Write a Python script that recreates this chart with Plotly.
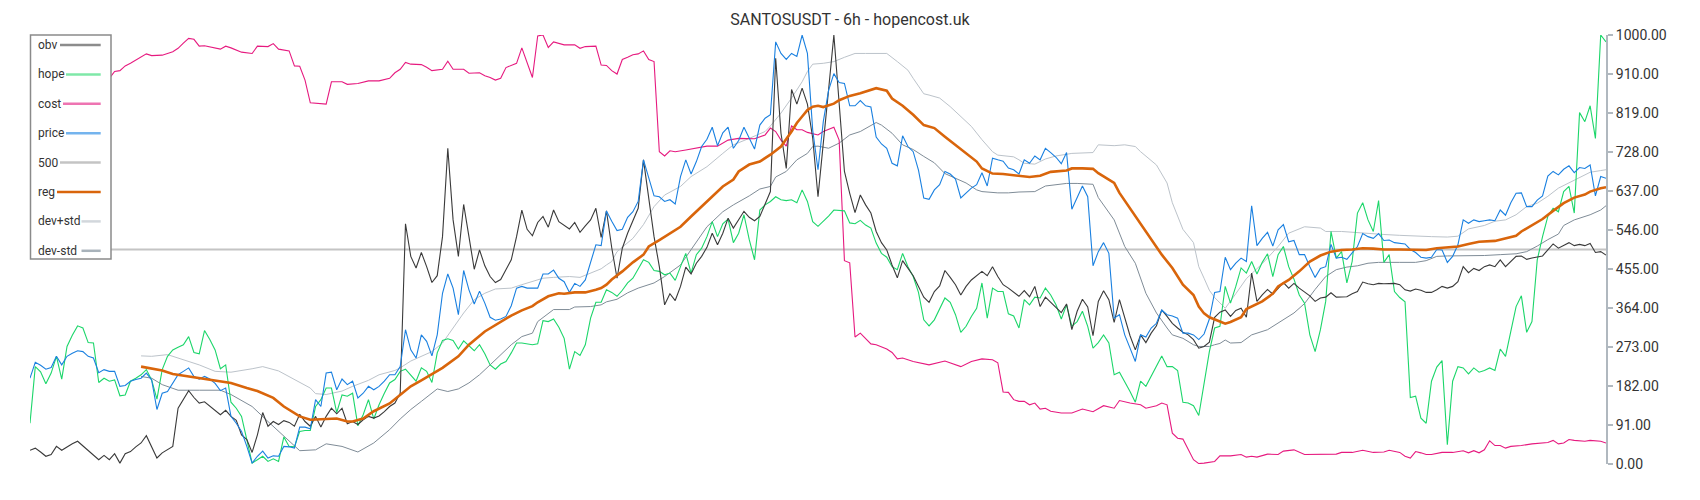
import plotly.graph_objects as go

TITLE = "SANTOSUSDT - 6h - hopencost.uk"
Y_TICKS = [0, 91, 182, 273, 364, 455, 546, 637, 728, 819, 910, 1000]
N_LAST = 298

# (bar index, value) vertices
obv_pts = [(0,32),(1,37),(2,28),(3,18),(4,22),(5,41),(6,32),(7,40),(8,47),(9,53),(10,42),(11,32),(12,20),(13,10),(14,20),(15,10),(16,24),(17,2),(18,24),(19,29),(20,40),(21,49),(22,66),(23,40),(24,14),(25,26),(26,33),(27,41),(28,130),(29,150),(30,171),(31,155),(32,142),(33,145),(34,135),(35,127),(36,115),(37,125),(38,111),(39,102),(40,68),(41,57),(42,27),(43,68),(44,120),(45,88),(46,99),(47,92),(48,101),(49,97),(50,88),(51,116),(52,99),(53,88),(54,111),(55,86),(56,111),(57,130),(58,117),(59,130),(60,94),(61,99),(62,92),(63,103),(64,111),(65,107),(66,112),(67,122),(68,134),(69,142),(70,165),(71,560),(72,484),(73,457),(74,493),(75,460),(76,423),(77,439),(78,530),(79,736),(80,569),(81,484),(82,605),(83,530),(84,454),(85,499),(86,462),(87,437),(88,423),(89,430),(90,453),(91,476),(92,530),(93,592),(94,547),(95,532),(96,563),(97,577),(98,552),(99,592),(100,565),(101,557),(102,548),(103,563),(104,540),(105,555),(106,569),(107,596),(108,528),(109,590),(110,504),(111,433),(112,503),(113,538),(114,569),(115,596),(116,709),(117,623),(118,530),(119,460),(120,371),(121,397),(122,381),(123,414),(124,459),(125,443),(126,468),(127,484),(128,505),(129,538),(130,511),(131,538),(132,573),(133,550),(134,571),(135,589),(136,575),(137,567),(138,577),(139,604),(140,635),(141,946),(142,771),(143,689),(144,873),(145,839),(146,876),(147,839),(148,760),(149,623),(150,740),(151,872),(152,1000),(153,841),(154,682),(155,631),(156,586),(157,627),(158,604),(159,585),(160,542),(161,516),(162,499),(163,464),(164,434),(165,474),(166,457),(167,439),(168,414),(169,389),(170,377),(171,402),(172,415),(173,451),(174,435),(175,418),(176,394),(177,414),(178,429),(179,439),(180,449),(181,439),(182,460),(183,437),(184,418),(185,410),(186,400),(187,391),(188,404),(189,390),(190,414),(191,367),(192,389),(193,377),(194,366),(195,353),(196,373),(197,313),(198,356),(199,384),(200,366),(201,299),(202,379),(203,404),(204,383),(205,330),(206,383),(207,340),(208,299),(209,266),(210,301),(211,283),(212,305),(213,322),(214,359),(215,344),(216,328),(217,317),(218,307),(219,301),(220,290),(221,270),(222,274),(223,284),(224,342),(225,354),(226,359),(227,344),(228,358),(229,363),(230,342),(231,445),(232,379),(233,394),(234,407),(235,396),(236,410),(237,423),(238,410),(239,421),(240,410),(241,402),(242,392),(243,379),(244,387),(245,389),(246,399),(247,389),(248,390),(249,390),(250,397),(251,402),(252,424),(253,420),(254,418),(255,421),(256,420),(257,420),(258,421),(259,418),(260,406),(261,403),(262,408),(263,405),(264,400),(265,400),(266,406),(267,414),(268,410),(269,414),(270,425),(271,460),(272,446),(273,456),(274,451),(275,460),(276,464),(277,460),(278,476),(279,460),(280,472),(281,484),(282,485),(283,477),(284,480),(285,482),(286,485),(287,499),(288,513),(289,503),(290,509),(291,516),(292,509),(293,512),(294,509),(295,514),(296,493),(297,495),(298,487)]

hope_pts = [(0,95),(1,227),(2,215),(3,187),(4,212),(5,251),(6,198),(7,274),(8,300),(9,322),(10,317),(11,283),(12,282),(13,190),(14,200),(15,193),(16,196),(17,159),(18,161),(19,193),(20,200),(21,208),(22,220),(23,196),(24,151),(25,220),(26,251),(27,266),(28,272),(29,278),(30,297),(31,260),(32,257),(33,311),(34,290),(35,266),(36,222),(37,231),(38,144),(39,130),(40,111),(41,55),(42,2),(43,10),(44,18),(45,6),(46,12),(47,6),(48,63),(49,41),(50,40),(51,76),(52,78),(53,78),(54,134),(55,150),(56,177),(57,177),(58,120),(59,161),(60,158),(61,165),(62,89),(63,115),(64,150),(65,105),(66,138),(67,165),(68,189),(69,197),(70,216),(71,221),(72,207),(73,193),(74,224),(75,216),(76,190),(77,259),(78,288),(79,292),(80,288),(81,268),(82,287),(83,276),(84,264),(85,278),(86,257),(87,231),(88,221),(89,233),(90,239),(91,259),(92,282),(93,282),(94,280),(95,278),(96,280),(97,334),(98,332),(99,338),(100,319),(101,293),(102,221),(103,262),(104,253),(105,278),(106,340),(107,377),(108,377),(109,406),(110,400),(111,391),(112,405),(113,422),(114,433),(115,453),(116,476),(117,470),(118,451),(119,449),(120,441),(121,445),(122,428),(123,460),(124,491),(125,445),(126,488),(127,503),(128,530),(129,565),(130,530),(131,560),(132,571),(133,516),(134,538),(135,581),(136,523),(137,476),(138,592),(139,604),(140,612),(141,623),(142,616),(143,614),(144,616),(145,609),(146,639),(147,612),(148,565),(149,554),(150,565),(151,578),(152,592),(153,591),(154,590),(155,562),(156,560),(157,568),(158,557),(159,550),(160,515),(161,491),(162,482),(163,460),(164,453),(165,491),(166,460),(167,437),(168,400),(169,336),(170,322),(171,336),(172,361),(173,387),(174,377),(175,348),(176,307),(177,321),(178,344),(179,363),(180,422),(181,340),(182,410),(183,402),(184,402),(185,350),(186,345),(187,317),(188,383),(189,371),(190,389),(191,387),(192,410),(193,394),(194,371),(195,338),(196,371),(197,321),(198,332),(199,356),(200,321),(201,270),(202,283),(203,301),(204,282),(205,208),(206,214),(207,193),(208,169),(209,144),(210,193),(211,181),(212,204),(213,227),(214,252),(215,227),(216,227),(217,218),(218,144),(219,142),(220,136),(221,113),(222,189),(223,262),(224,317),(225,321),(226,414),(227,375),(228,414),(229,457),(230,445),(231,472),(232,443),(233,470),(234,490),(235,437),(236,488),(237,507),(238,460),(239,431),(240,394),(241,375),(242,301),(243,262),(244,313),(245,379),(246,542),(247,480),(248,495),(249,422),(250,472),(251,585),(252,609),(253,569),(254,542),(255,614),(256,470),(257,488),(258,402),(259,388),(260,378),(261,155),(262,158),(263,107),(264,95),(265,193),(266,226),(267,241),(268,45),(269,193),(270,227),(271,224),(272,210),(273,224),(274,214),(275,218),(276,224),(277,218),(278,268),(279,251),(280,309),(281,367),(282,392),(283,307),(284,332),(285,476),(286,530),(287,577),(288,596),(289,588),(290,635),(291,647),(292,585),(293,819),(294,798),(295,835),(296,759),(297,1000),(298,984)]

cost_pts = [(15,899),(16,915),(17,917),(18,928),(19,934),(21,948),(22,956),(23,952),(25,953),(27,961),(28,969),(29,981),(30,992),(31,990),(32,974),(33,975),(34,972),(35,969),(36,967),(37,974),(38,970),(40,960),(42,957),(43,974),(45,973),(46,980),(47,967),(49,963),(50,928),(51,927),(52,895),(53,842),(55,840),(56,839),(57,891),(59,891),(60,885),(62,887),(64,893),(66,893),(68,899),(69,912),(70,920),(71,936),(72,932),(74,931),(75,925),(76,917),(78,920),(79,939),(80,920),(82,920),(83,911),(85,912),(86,905),(87,901),(88,895),(89,899),(90,924),(92,934),(93,970),(94,934),(95,901),(96,998),(97,1000),(98,971),(99,984),(101,977),(103,977),(104,969),(105,973),(107,974),(108,930),(109,929),(110,917),(111,909),(112,943),(113,948),(114,954),(115,956),(116,963),(117,943),(118,938),(119,728),(120,718),(121,730),(122,728),(124,732),(126,736),(128,741),(130,741),(132,755),(134,759),(136,759),(137,758),(139,767),(140,783),(141,775),(142,755),(143,741),(144,788),(145,779),(146,779),(147,773),(149,767),(150,775),(152,785),(153,755),(154,474),(155,469),(156,296),(157,305),(158,293),(159,280),(160,278),(162,268),(163,260),(164,245),(165,247),(167,239),(170,231),(173,240),(176,227),(178,239),(180,245),(182,243),(183,236),(184,168),(185,167),(186,150),(187,146),(188,146),(189,138),(190,142),(191,128),(192,130),(193,123),(195,119),(197,119),(199,128),(201,122),(203,136),(205,130),(206,148),(208,142),(210,138),(211,130),(213,136),(214,142),(215,138),(216,72),(217,60),(218,58),(219,33),(220,10),(221,1),(222,2),(224,6),(225,19),(226,19),(227,19),(229,22),(230,16),(231,18),(232,16),(234,23),(236,22),(237,30),(239,33),(241,22),(243,22),(245,23),(247,23),(248,27),(250,27),(252,32),(254,27),(256,28),(257,32),(259,27),(260,18),(261,14),(262,29),(263,26),(264,22),(265,22),(267,27),(269,27),(271,31),(272,26),(273,31),(274,26),(275,33),(276,54),(277,43),(278,43),(279,37),(280,41),(282,43),(284,47),(286,50),(287,50),(288,55),(289,47),(290,49),(291,57),(292,55),(294,53),(295,55),(297,53),(298,49)]

price_pts = [(0,200),(1,237),(2,230),(3,221),(4,225),(5,251),(6,231),(7,251),(8,258),(9,264),(10,262),(11,251),(12,247),(13,213),(14,220),(15,216),(16,216),(17,181),(18,183),(19,193),(20,197),(21,200),(22,212),(23,196),(24,127),(25,165),(26,169),(27,187),(28,208),(29,216),(30,224),(31,204),(32,198),(33,204),(34,198),(35,188),(36,171),(37,177),(38,111),(39,95),(40,76),(41,41),(42,2),(43,18),(44,30),(45,14),(46,19),(47,18),(48,41),(49,40),(50,37),(51,86),(52,86),(53,82),(54,150),(55,134),(56,212),(57,214),(58,173),(59,198),(60,185),(61,193),(62,154),(63,165),(64,181),(65,173),(66,181),(67,193),(68,208),(69,208),(70,227),(71,313),(72,266),(73,247),(74,301),(75,286),(76,252),(77,301),(78,398),(79,443),(80,410),(81,348),(82,451),(83,406),(84,373),(85,403),(86,375),(87,342),(88,335),(89,338),(90,344),(91,369),(92,410),(93,414),(94,410),(95,410),(96,410),(97,443),(98,443),(99,452),(100,433),(101,425),(102,400),(103,421),(104,414),(105,429),(106,472),(107,511),(108,509),(109,590),(110,566),(111,544),(112,547),(113,575),(114,588),(115,612),(116,709),(117,666),(118,625),(119,623),(120,612),(121,616),(122,606),(123,670),(124,709),(125,676),(126,705),(127,740),(128,757),(129,785),(130,742),(131,772),(132,785),(133,736),(134,754),(135,785),(136,759),(137,734),(138,790),(139,806),(140,814),(141,984),(142,957),(143,943),(144,957),(145,950),(146,1000),(147,957),(148,778),(149,686),(150,798),(151,871),(152,910),(153,889),(154,887),(155,835),(156,835),(157,847),(158,835),(159,832),(160,762),(161,746),(162,736),(163,701),(164,695),(165,765),(166,740),(167,728),(168,685),(169,620),(170,617),(171,639),(172,651),(173,682),(174,676),(175,664),(176,620),(177,631),(178,643),(179,651),(180,679),(181,648),(182,713),(183,709),(184,706),(185,690),(186,686),(187,676),(188,709),(189,701),(190,718),(191,709),(192,736),(193,726),(194,715),(195,700),(196,726),(197,594),(198,620),(199,648),(200,623),(201,462),(202,495),(203,516),(204,491),(205,340),(206,348),(207,301),(208,270),(209,239),(210,301),(211,296),(212,317),(213,328),(214,359),(215,348),(216,345),(217,340),(218,305),(219,305),(220,301),(221,290),(222,303),(223,338),(224,400),(225,402),(226,482),(227,453),(228,468),(229,480),(230,472),(231,602),(232,509),(233,526),(234,540),(235,508),(236,546),(237,558),(238,518),(239,521),(240,488),(241,488),(242,460),(243,435),(244,456),(245,460),(246,512),(247,480),(248,482),(249,477),(250,492),(251,507),(252,537),(253,530),(254,526),(255,537),(256,521),(257,522),(258,516),(259,514),(260,513),(261,500),(262,493),(263,482),(264,480),(265,482),(266,500),(267,499),(268,470),(269,484),(270,511),(271,569),(272,561),(273,569),(274,565),(275,567),(276,569),(277,567),(278,592),(279,580),(280,609),(281,631),(282,632),(283,600),(284,600),(285,615),(286,625),(287,671),(288,682),(289,674),(290,687),(291,695),(292,679),(293,691),(294,689),(295,697),(296,625),(297,670),(298,666)]

level_500 = [(0,500),(298,500)]

reg_pts = [(21,227),(25,218),(27,210),(30,204),(33,198),(35,195),(38,189),(41,177),(43,170),(46,154),(48,134),(51,111),(53,103),(56,105),(58,106),(60,99),(61,99),(63,106),(65,123),(68,141),(70,161),(72,181),(74,195),(76,210),(78,224),(81,251),(83,278),(86,309),(89,332),(91,346),(93,358),(95,368),(96,377),(98,391),(100,398),(101,397),(103,400),(105,400),(107,406),(108,410),(109,418),(110,430),(112,449),(114,470),(116,488),(117,507),(119,522),(121,538),(123,553),(125,577),(127,600),(129,624),(131,647),(133,663),(134,682),(136,698),(138,705),(140,721),(142,740),(144,775),(145,795),(146,810),(147,825),(148,833),(149,835),(150,832),(152,840),(153,848),(155,858),(157,864),(159,872),(160,876),(162,870),(163,852),(165,835),(167,814),(169,790),(171,783),(173,763),(175,744),(177,724),(179,705),(180,689),(182,677),(184,676),(186,673),(189,669),(191,672),(193,681),(196,684),(197,689),(199,689),(201,688),(202,678),(205,655),(206,632),(208,596),(211,542),(214,488),(216,457),(218,418),(220,394),(221,367),(222,351),(223,342),(225,332),(226,327),(227,331),(229,342),(230,361),(233,379),(235,397),(236,414),(238,429),(240,449),(242,472),(244,486),(246,495),(248,499),(250,500),(252,503),(254,502),(256,500),(259,500),(261,499),(264,499),(266,503),(268,505),(270,507),(272,513),(274,518),(277,520),(279,526),(281,532),(282,542),(284,557),(286,571),(288,590),(290,608),(292,621),(294,628),(295,635),(297,643),(298,645)]

dev_plus_pts = [(21,252),(23,251),(26,255),(29,243),(32,231),(35,216),(38,214),(42,222),(44,227),(47,217),(50,196),(53,177),(54,164),(56,162),(59,170),(61,181),(64,195),(66,208),(69,218),(70,224),(72,240),(74,251),(76,262),(78,282),(80,317),(82,352),(84,383),(86,398),(88,408),(91,410),(93,418),(95,426),(97,433),(99,435),(102,437),(104,435),(106,445),(108,455),(109,464),(110,472),(111,495),(114,526),(116,558),(118,600),(120,627),(123,647),(125,670),(128,693),(131,724),(133,744),(136,759),(137,764),(139,775),(140,788),(142,818),(144,853),(146,891),(147,915),(148,932),(150,934),(152,938),(154,948),(156,957),(158,957),(162,957),(164,938),(166,918),(167,899),(169,863),(170,860),(172,853),(174,833),(176,809),(178,787),(180,756),(182,728),(183,720),(186,716),(187,709),(188,701),(190,699),(192,711),(194,718),(197,724),(201,726),(202,744),(205,742),(207,744),(209,740),(210,728),(213,697),(215,655),(216,609),(218,547),(220,516),(221,460),(222,433),(223,405),(224,388),(225,375),(226,363),(228,397),(230,432),(233,467),(236,507),(238,538),(241,553),(244,550),(245,542),(248,542),(250,540),(252,538),(254,536),(256,535),(259,533),(263,532),(265,530),(268,529),(270,531),(272,548),(275,556),(277,566),(279,569),(281,581),(283,600),(285,608),(287,624),(289,643),(291,656),(293,668),(295,680),(297,684),(298,686)]

dev_minus_pts = [(21,204),(23,200),(25,185),(28,172),(32,172),(36,172),(38,162),(42,134),(45,99),(48,64),(51,31),(54,33),(56,47),(59,41),(62,28),(65,49),(68,80),(70,105),(72,127),(74,146),(76,164),(77,175),(79,169),(81,175),(83,189),(85,208),(87,231),(89,255),(91,278),(93,297),(95,305),(96,332),(98,352),(99,360),(102,360),(103,366),(106,367),(108,371),(109,378),(111,384),(113,399),(115,410),(118,422),(120,437),(123,464),(125,499),(128,553),(131,588),(133,604),(136,625),(138,641),(140,647),(141,669),(143,682),(145,709),(147,724),(148,740),(149,741),(151,736),(153,748),(155,767),(157,775),(159,790),(160,796),(161,790),(163,771),(165,744),(167,733),(169,717),(171,702),(173,677),(175,666),(177,655),(179,639),(180,635),(183,632),(185,632),(187,634),(190,635),(192,648),(196,654),(198,654),(201,652),(202,621),(205,569),(207,507),(209,468),(211,398),(213,352),(215,317),(216,301),(218,293),(220,278),(221,274),(223,274),(224,278),(225,281),(226,289),(227,282),(229,283),(231,301),(234,313),(236,328),(239,352),(241,374),(243,407),(245,437),(247,453),(249,459),(251,462),(253,468),(255,470),(259,470),(262,470),(264,474),(266,484),(268,485),(270,485),(272,486),(275,486),(278,488),(281,490),(283,495),(285,508),(287,523),(289,536),(290,556),(292,569),(295,581),(297,592),(298,602)]

# series: name, points, plot colour, width, legend colour
series = [
    ("obv", obv_pts, "#3a3a3a", 1.1, "#8c8c8c"),
    ("hope", hope_pts, "#1cd66a", 1.1, "#7fe8a8"),
    ("cost", cost_pts, "#e61a7f", 1.1, "#ee74b2"),
    ("price", price_pts, "#1a80e0", 1.1, "#74b4ee"),
    ("500", level_500, "#c4c4c4", 1.8, "#c4c4c4"),
    ("reg", reg_pts, "#d9650b", 2.6, "#d9650b"),
    ("dev+std", dev_plus_pts, "#bcc3ca", 1.0, "#d2d7dc"),
    ("dev-std", dev_minus_pts, "#7f8c97", 1.0, "#a8b2ba"),
]
draw_order = ["500", "dev+std", "dev-std", "cost", "hope", "obv", "price", "reg"]

W, H = 1700, 500
ML, MR, MT, MB = 30, 94, 35, 36
PW, PH = W - ML - MR, H - MT - MB

def xp(px):
    return (px - ML) / PW

def yp(py):
    return (H - MB - py) / PH

fig = go.Figure()
lookup = {s[0]: s for s in series}
for name in draw_order:
    _, pts, col, wid, _ = lookup[name]
    xs, ys = zip(*pts)
    fig.add_trace(go.Scatter(x=list(xs), y=list(ys), mode="lines", name=name,
                             line=dict(color=col, width=wid), showlegend=False,
                             hoverinfo="skip"))

shapes = [dict(type="rect", xref="paper", yref="paper", layer="above",
               x0=xp(30.5), x1=xp(111), y0=yp(259), y1=yp(35),
               fillcolor="white", line=dict(color="#8a8a8a", width=1.5))]
annotations = []
legend_line_start = [60, 66, 63, 66, 60, 57, 81.5, 81.5]
for k, (name, _, _, _, lcol) in enumerate(series):
    yy = 45 + k * 29.4
    annotations.append(dict(x=xp(35.5), y=yp(yy), xref="paper", yref="paper",
                            text=name, showarrow=False, xanchor="left", yanchor="middle",
                            font=dict(family="Roboto", size=12, color="#333")))
    shapes.append(dict(type="line", xref="paper", yref="paper", layer="above",
                       x0=xp(legend_line_start[k]), x1=xp(100.7), y0=yp(yy), y1=yp(yy),
                       line=dict(color=lcol, width=2.5)))

fig.update_layout(
    width=W, height=H,
    margin=dict(l=ML, r=MR, t=MT, b=MB, pad=0),
    paper_bgcolor="white", plot_bgcolor="white",
    title=dict(text=TITLE, x=0.5, xref="container", xanchor="center",
               y=1 - 19.5 / H, yref="container", yanchor="middle",
               font=dict(family="Roboto", size=16, color="#333")),
    xaxis=dict(visible=False, range=[0, N_LAST]),
    yaxis=dict(range=[0, 1000], side="right", showgrid=False, zeroline=False,
               showline=True, linecolor="#b0b8bf", linewidth=2,
               ticks="outside", ticklen=5, tickwidth=2, tickcolor="#b0b8bf",
               tickvals=Y_TICKS, ticktext=[f"{v:.2f}" for v in Y_TICKS],
               tickfont=dict(family="Roboto", size=14, color="#333")),
    shapes=shapes, annotations=annotations, showlegend=False,
)

fig.write_html("out.html", config={"displayModeBar": False},
               post_script="document.body.style.margin='0';document.body.style.overflow='hidden';")
